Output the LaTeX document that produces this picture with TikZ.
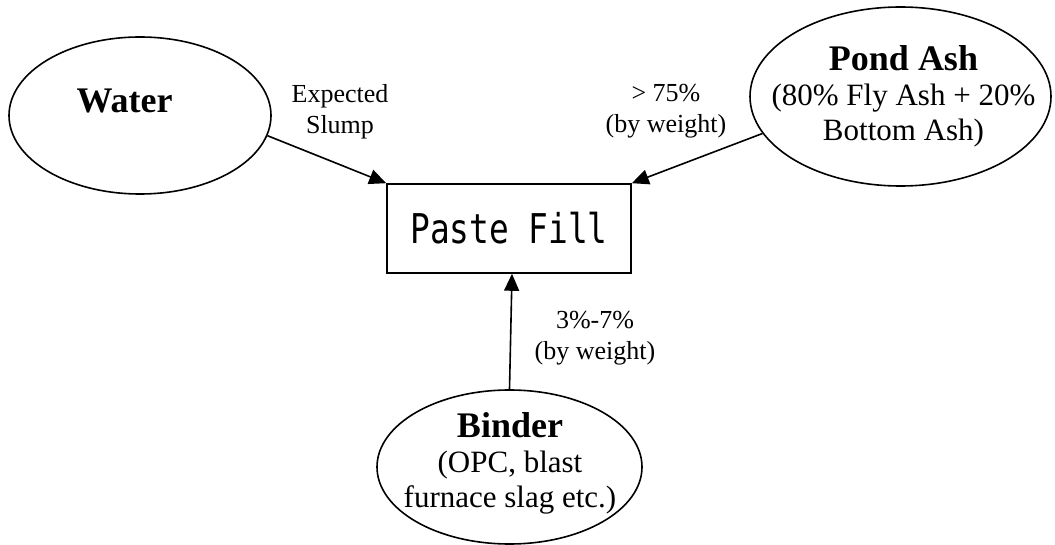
\documentclass[tikz,border=0pt]{standalone}
\usepackage{fontspec}
\setmainfont{Liberation Serif}
\newfontfamily\pastefont[FakeStretch=0.8]{DejaVu Sans Mono}
\usetikzlibrary{arrows.meta,shapes.geometric}

\begin{document}
\begin{tikzpicture}[x=1pt,y=-1pt,
  ingredient/.style={draw,ellipse,line width=1.6pt,inner sep=0pt},
  feed/.style={line width=1.6pt,-{Triangle[length=17pt,width=15pt]}},
  ratio/.style={align=center,font=\fontsize{26}{31}\selectfont}]
\useasboundingbox (0,0) rectangle (1055,545);
\node[ingredient,minimum width=262pt,minimum height=157pt] (water) at (140,115.5) {};
\node[ingredient,minimum width=301pt,minimum height=179pt] (pond) at (900.5,96.5) {};
\node[ingredient,minimum width=265pt,minimum height=154pt] (binder) at (509.5,467) {};
\node[draw,line width=1.6pt,minimum width=244pt,minimum height=89pt,inner sep=0pt,
  font=\pastefont\fontsize{41}{41}\selectfont] (paste) at (509,228.5) {Paste Fill};
\node[anchor=base,font=\bfseries\fontsize{36}{36}\selectfont] (watertext) at (124.5,113) {Water};
\node[align=center,font=\fontsize{31}{35}\selectfont] (pondtext) at (903.5,96)
  {{\bfseries\fontsize{36}{36}\selectfont Pond Ash}\\(80\% Fly Ash + 20\%\\Bottom Ash)};
\node[align=center,font=\fontsize{31}{35}\selectfont] (bindertext) at (510,463)
  {{\bfseries\fontsize{36}{36}\selectfont Binder}\\(OPC, blast\\furnace slag etc.)};
\node[ratio] (slump) at (340,111.5) {Expected\\Slump};
\node[ratio] (pondratio) at (666,111.5) {> 75\%\\(by weight)};
\node[ratio] (binderratio) at (595,338) {3\%-7\%\\(by weight)};
\draw[feed] (water.-9) -- (paste.north west);
\draw[feed] (pond.195) -- (paste.north east);
\draw[feed] (binder.north) -- ([xshift=3pt]paste.south);
\end{tikzpicture}
\end{document}
